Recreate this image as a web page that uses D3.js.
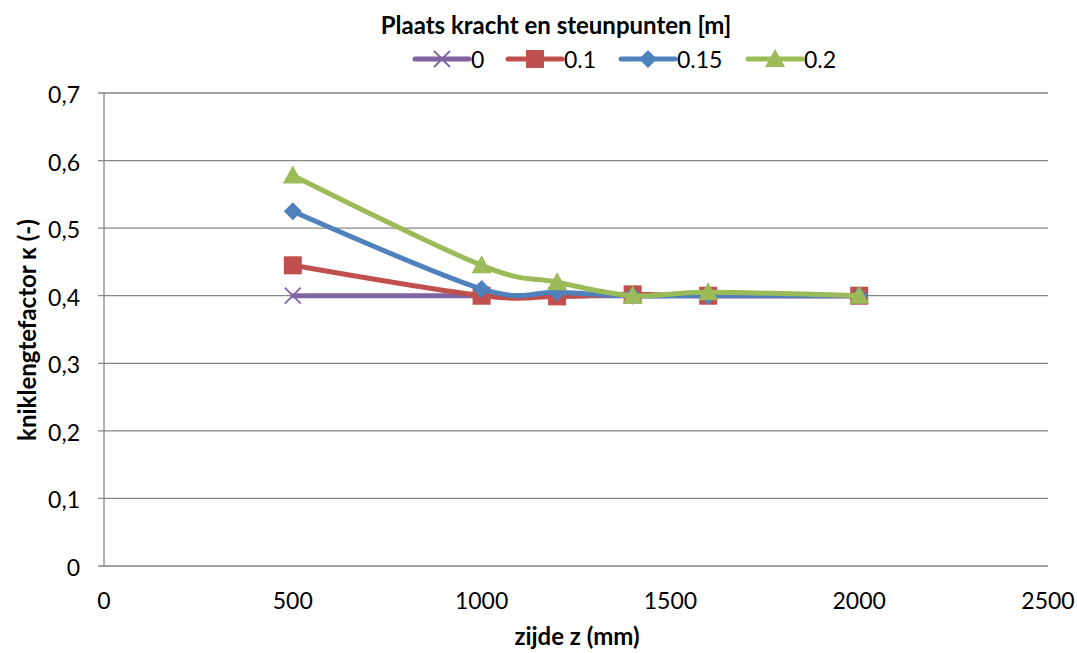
<!DOCTYPE html>
<html><head><meta charset="utf-8">
<script src="https://cdn.jsdelivr.net/npm/d3@7"></script>
<style>body{margin:0;background:#fff;} svg{display:block;font-family:Lato, "Open Sans", sans-serif;}</style>
</head><body>
<svg id="c" width="1077" height="653"></svg>
<script>
const xValues = [500, 1000, 1200, 1400, 1600, 2000];
const seriesNames = ["0", "0.1", "0.15", "0.2"];
const s0 = [0.40, 0.40, 0.40, 0.40, 0.40, 0.40];
const s01 = [0.445, 0.40, 0.399, 0.402, 0.40, 0.40];
const s015 = [0.525, 0.41, 0.405, 0.40, 0.40, 0.40];
const s02 = [0.578, 0.445, 0.42, 0.40, 0.405, 0.40];
const xTicks = [0, 500, 1000, 1500, 2000, 2500];
const yTicks = [0, 0.1, 0.2, 0.3, 0.4, 0.5, 0.6, 0.7];
const colors = ["#8064A2", "#C0504D", "#4F81BD", "#9BBB59"];
const markers = ["x", "square", "diamond", "triangle"];
const allSeries = [s0, s01, s015, s02];

const svg = d3.select("#c");
const x = d3.scaleLinear().domain([0, 2500]).range([104, 1048]);
const y = d3.scaleLinear().domain([0, 0.7]).range([566, 93]);

svg.append("g").selectAll("line").data(yTicks).join("line")
  .attr("x1", 98).attr("x2", 1048)
  .attr("y1", d => y(d)).attr("y2", d => y(d))
  .attr("stroke", "#868686").attr("stroke-width", 1.3);
svg.append("line").attr("x1", 104).attr("x2", 104).attr("y1", y(0.7)).attr("y2", y(0))
  .attr("stroke", "#868686").attr("stroke-width", 1.3);

svg.append("g").selectAll("text").data(yTicks).join("text")
  .attr("x", 80).attr("y", d => y(d) + 2).attr("dy", "0.35em")
  .attr("text-anchor", "end").attr("font-size", 23).attr("fill", "#000")
  .text(d => d === 0 ? "0" : d3.format(".1f")(d).replace(".", ","));
svg.append("g").selectAll("text").data(xTicks).join("text")
  .attr("x", d => x(d)).attr("y", 609)
  .attr("text-anchor", "middle").attr("font-size", 23).attr("fill", "#000")
  .text(d => d);

svg.append("text").attr("x", 577).attr("y", 645).attr("text-anchor", "middle")
  .attr("font-size", 24).attr("font-weight", "bold").text("zijde z (mm)");
svg.append("text").attr("transform", "translate(36,330) rotate(-90)").attr("text-anchor", "middle")
  .attr("font-size", 24).attr("font-weight", "bold").text("kniklengtefactor κ (-)");

function drawMarker(g, type, cx, cy, color) {
  if (type === "x") {
    const r = 8;
    g.append("path").attr("d", `M${cx-r},${cy-r}L${cx+r},${cy+r}M${cx-r},${cy+r}L${cx+r},${cy-r}`)
      .attr("stroke", color).attr("stroke-width", 1.8).attr("fill", "none");
  } else if (type === "square") {
    const r = 9;
    g.append("rect").attr("x", cx-r).attr("y", cy-r).attr("width", 2*r).attr("height", 2*r).attr("fill", color);
  } else if (type === "diamond") {
    const r = 9;
    g.append("path").attr("d", `M${cx},${cy-r}L${cx+r},${cy}L${cx},${cy+r}L${cx-r},${cy}Z`).attr("fill", color);
  } else {
    const r = 10;
    g.append("path").attr("d", `M${cx},${cy-r}L${cx+r},${cy+r*0.8}L${cx-r},${cy+r*0.8}Z`).attr("fill", color);
  }
}

const line = d3.line().x(d => x(d[0])).y(d => y(d[1])).curve(d3.curveCatmullRom.alpha(0));
allSeries.forEach((vals, i) => {
  const pts = xValues.map((xv, j) => [xv, vals[j]]);
  const g = svg.append("g");
  g.append("path").datum(pts).attr("d", line).attr("fill", "none")
    .attr("stroke", colors[i]).attr("stroke-width", 5).attr("stroke-linejoin", "round").attr("stroke-linecap", "round");
  pts.forEach(p => drawMarker(g, markers[i], x(p[0]), y(p[1]), colors[i]));
});

svg.append("text").attr("x", 556).attr("y", 34).attr("text-anchor", "middle")
  .attr("font-size", 24).attr("font-weight", "bold").text("Plaats kracht en steunpunten [m]");
const legendX = [415, 508, 621, 748];
seriesNames.forEach((name, i) => {
  const g = svg.append("g");
  const lx = legendX[i], ly = 59;
  g.append("line").attr("x1", lx).attr("x2", lx + 54).attr("y1", ly).attr("y2", ly)
    .attr("stroke", colors[i]).attr("stroke-width", 5).attr("stroke-linecap", "round");
  drawMarker(g, markers[i], lx + 27, ly, colors[i]);
  g.append("text").attr("x", lx + 56).attr("y", ly + 1).attr("dy", "0.35em")
    .attr("font-size", 23).text(name);
});
</script>
</body></html>
